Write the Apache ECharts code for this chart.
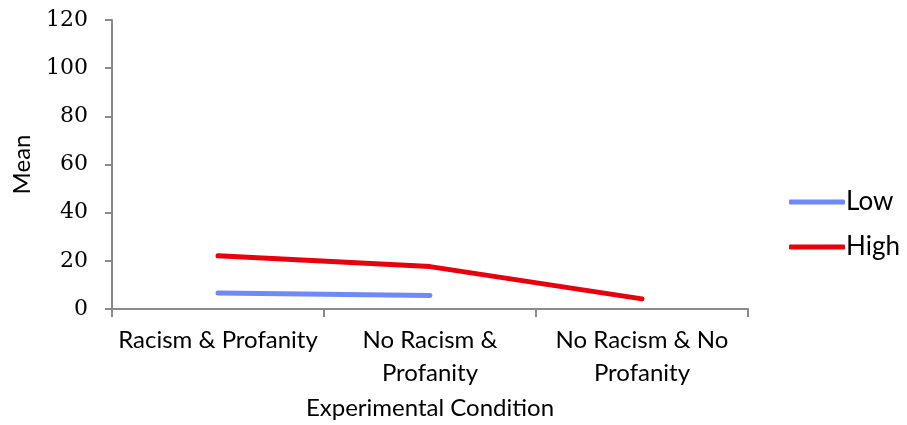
<!DOCTYPE html>
<html><head><meta charset="utf-8">
<script src="https://cdn.jsdelivr.net/npm/echarts@6/dist/echarts.min.js"></script>
<style>html,body{margin:0;padding:0;background:#fff}#c{width:907px;height:425px}</style>
</head><body><div id="c"></div>
<script>
const categories = ["Racism & Profanity", "No Racism & Profanity", "No Racism & No Profanity"];
const tickLabels = ["Racism & Profanity", "No Racism &\nProfanity", "No Racism & No\nProfanity"];
const lowValues = [6.6, 5.6, null];
const highValues = [22.1, 17.6, 4.2];
const seriesNames = ["Low", "High"];
const yTicks = [0, 20, 40, 60, 80, 100, 120];

const chart = echarts.init(document.getElementById('c'));
const axisColor = '#8a8a8a';
chart.setOption({
  animation: false,
  grid: {left: 112, right: 159, top: 20, bottom: 110, containLabel: false},
  legend: {
    orient: 'vertical', left: 784, top: 184, itemGap: 19,
    itemWidth: 56, itemHeight: 5, icon: 'roundRect',
    textStyle: {fontFamily: 'Lato', fontSize: 26, color: '#000', padding: [0,0,0,-4]},
    data: seriesNames
  },
  xAxis: {
    type: 'category', data: categories, boundaryGap: true,
    name: 'Experimental Condition', nameLocation: 'middle', nameGap: 87,
    nameTextStyle: {fontFamily: 'Lato', fontSize: 24, color: '#000'},
    axisLine: {lineStyle: {color: axisColor, width: 2}},
    axisTick: {show: true, length: 8, lineStyle: {color: axisColor, width: 2}},
    axisLabel: {interval: 0, fontFamily: 'Lato', fontSize: 24, color: '#000', margin: 15, lineHeight: 33,
      formatter: (v, i) => tickLabels[i]}
  },
  yAxis: {
    type: 'value', min: 0, max: 120, interval: 20,
    name: 'Mean', nameLocation: 'middle', nameGap: 78, nameRotate: 90,
    nameTextStyle: {fontFamily: 'Lato', fontSize: 24, color: '#000'},
    splitLine: {show: false},
    axisLine: {show: true, lineStyle: {color: axisColor, width: 2}},
    axisTick: {show: true, length: 7, lineStyle: {color: axisColor, width: 2}},
    axisLabel: {fontFamily: 'DejaVu Serif', fontSize: 22, color: '#000', margin: 24,
      formatter: v => yTicks.includes(v) ? String(v) : ''}
  },
  series: [
    {name: seriesNames[0], type: 'line', data: lowValues, symbol: 'none', connectNulls: false,
     lineStyle: {color: '#7089F9', width: 5, cap: 'round', join: 'round'}, itemStyle: {color: '#7089F9'}},
    {name: seriesNames[1], type: 'line', data: highValues, symbol: 'none',
     lineStyle: {color: '#E8000D', width: 5, cap: 'round', join: 'round'}, itemStyle: {color: '#E8000D'}}
  ]
});
</script></body></html>
